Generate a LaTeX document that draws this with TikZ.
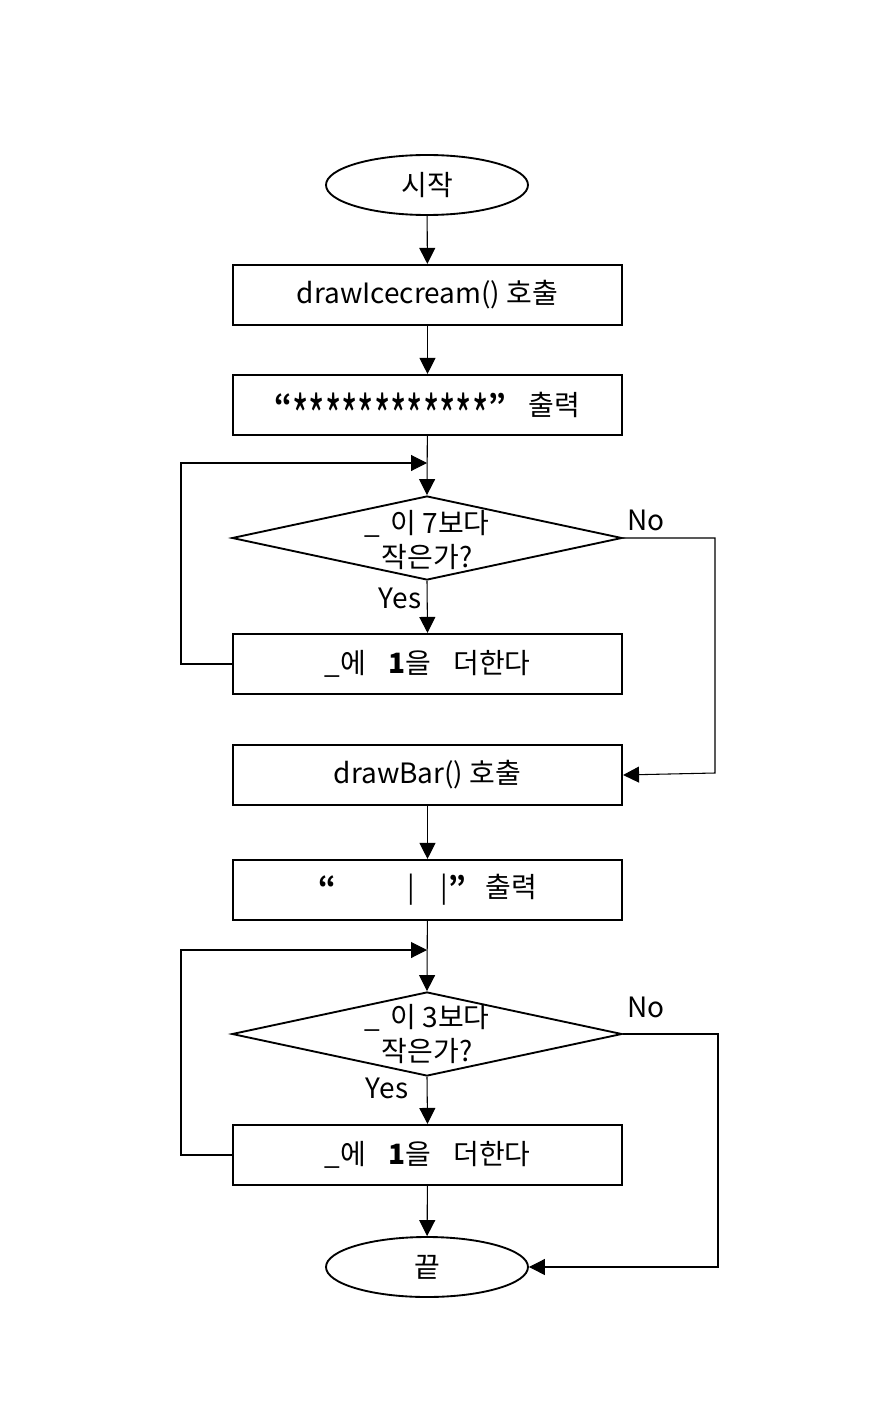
\documentclass[tikz,border=0pt]{standalone}
\usepackage{fontspec}
\usepackage{graphicx}
\setmainfont{Noto Sans CJK KR}
\usetikzlibrary{shapes.geometric,arrows.meta}
\newcommand{\stx}{\raisebox{-0.8em}[0pt][0pt]{\scalebox{1.25}[2.0]{*}}}
\begin{document}
\begin{tikzpicture}[x=0.75pt,y=-0.75pt,
  every node/.style={font=\fontsize{21}{26}\selectfont},
  proc/.style={draw,line width=1.6pt,minimum width=291.75pt,minimum height=45pt,inner sep=0pt},
  term/.style={draw,ellipse,line width=1.4pt,minimum width=151.5pt,minimum height=45pt,inner sep=0pt},
  dec/.style={draw,diamond,line width=1.4pt,aspect=4.64,minimum width=292.5pt,minimum height=63pt,inner sep=0pt},
  dectext/.style={align=center,inner sep=0pt},
  lab/.style={inner sep=0pt},
  arr/.style={line width=0.8pt,-{Triangle[length=12pt,width=12pt]}},
  ln/.style={line width=0.8pt}]
\useasboundingbox (0,0) rectangle (874,1412);
\node[term] (start) at (427,185) {시작};
\node[proc] (b1) at (427.5,295) {drawIcecream() 호출};
\node[proc] (b2) at (427.5,405) {{\bfseries “}\stx\stx\stx\stx\stx\stx\stx\stx\stx\stx\stx\stx{\bfseries ”}\hspace{0.8em}출력};
\coordinate (j1) at (427,463);
\coordinate (l1) at (181,463);
\node[dec] (d1) at (427,538) {};
\node[dectext] (t1) at (427,540) {\_\hspace{0.15em} 이 7보다\\작은가?};
\node[proc] (b3) at (427.5,664) {\_에\hspace{0.8em}{\bfseries 1}을\hspace{0.8em}더한다};
\coordinate (r1) at (715,773);
\node[proc] (b4) at (427.5,775) {drawBar() 호출};
\node[proc] (b5) at (427.5,890) {{\bfseries “}\hspace{54pt}|\hspace{19pt}|{\bfseries ”}\hspace{0.7em}출력};
\coordinate (j2) at (427,950);
\coordinate (l2) at (181,950);
\node[dec] (d2) at (427,1034) {};
\node[dectext] (t2) at (427,1034) {\_\hspace{0.15em} 이 3보다\\작은가?};
\node[proc] (b6) at (427.5,1155) {\_에\hspace{0.8em}{\bfseries 1}을\hspace{0.8em}더한다};
\node[term] (end) at (427,1267) {끝};
\coordinate (r2) at (718,1267);
\node[lab] (no1) at (646,520) {No};
\node[lab] (yes1) at (400,598) {Yes};
\node[lab] (no2) at (646,1007) {No};
\node[lab] (yes2) at (387,1088) {Yes};
\draw[arr] (start) -- (b1);
\draw[arr] (b1) -- (b2);
\draw[arr] (b2) -- (d1.north);
\draw[arr] (b3.west) -| (l1) -- (j1);
\draw[arr] (d1.south) -- (b3.north);
\draw[arr] (d1.east) -| (r1) -- (b4.east);
\draw[arr] (b4) -- (b5);
\draw[arr] (b5) -- (d2.north);
\draw[arr] (b6.west) -| (l2) -- (j2);
\draw[arr] (d2.south) -- (b6.north);
\draw[arr] (b6) -- (end);
\draw[arr] (d2.east) -| (r2) -- (end.east);
\end{tikzpicture}
\end{document}
